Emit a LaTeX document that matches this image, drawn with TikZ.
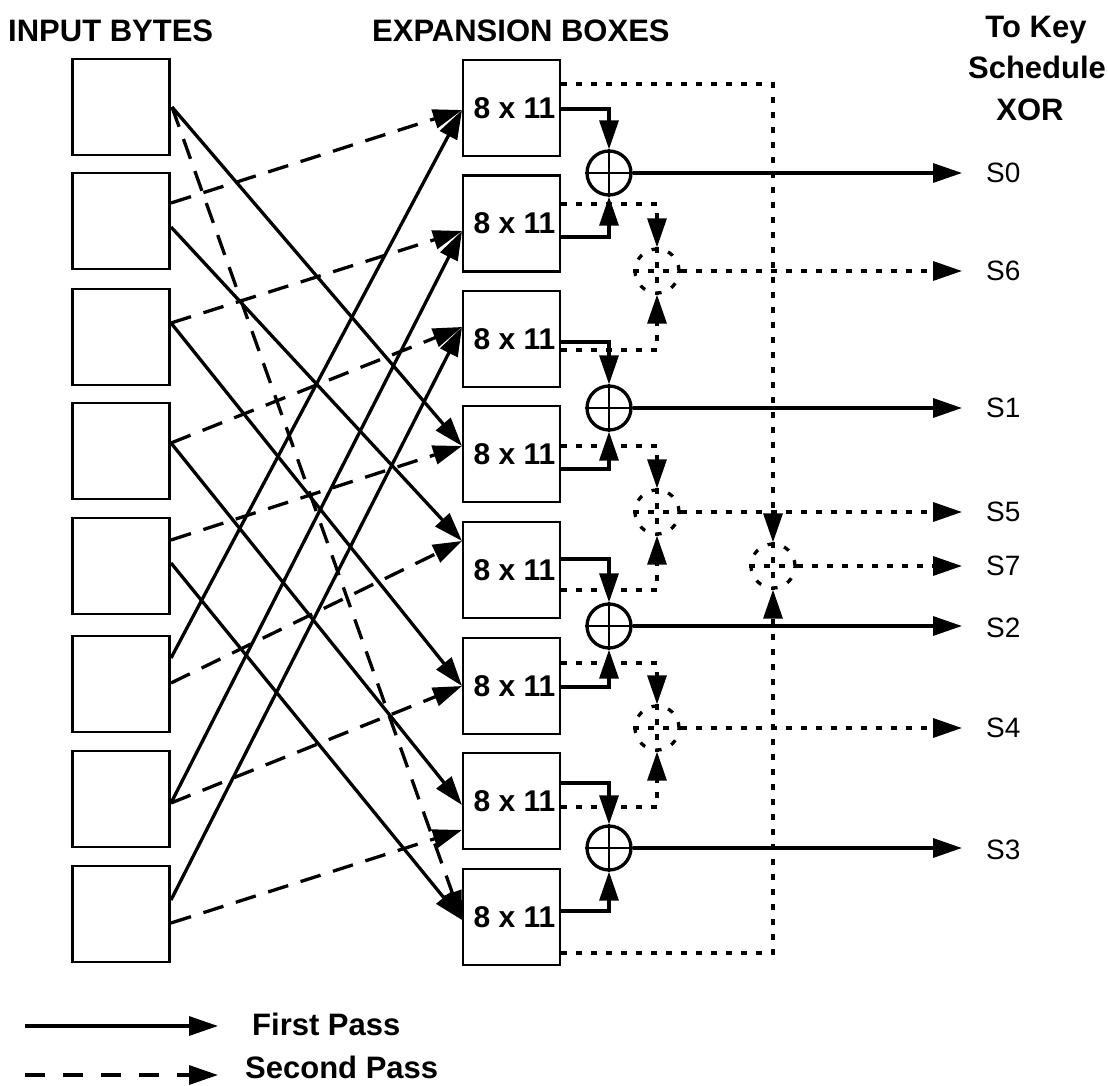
\documentclass[tikz,border=0pt]{standalone}
\usepackage{fontspec}
\setmainfont{Liberation Sans}
\usetikzlibrary{arrows.meta}
\begin{document}
\begin{tikzpicture}[x=1pt,y=-1pt,
  box/.style={draw, line width=2.4pt, minimum width=97pt, minimum height=96pt, inner sep=0pt,
    font=\bfseries\fontsize{30}{30}\selectfont},
  tipa/.style={-{Triangle[length=29pt,width=19pt]}},
  first/.style={line width=3.3pt, tipa},
  second/.style={line width=3.3pt, dash pattern=on 21pt off 13pt, tipa},
  dotl/.style={line width=3.3pt, dash pattern=on 6pt off 9pt},
  dotarr/.style={dotl, tipa},
  xorc/.style={circle, draw, line width=3.3pt, minimum size=44pt, inner sep=0pt},
  dxor/.style={circle, draw, line width=3.3pt, dash pattern=on 6pt off 11pt, minimum size=44pt, inner sep=0pt},
  lab/.style={anchor=west, inner sep=0pt, font=\fontsize{28}{28}\selectfont},
  head/.style={inner sep=0pt, font=\bfseries\fontsize{31}{31}\selectfont},
  outs/.style={shorten >=24pt}
]
\useasboundingbox (0,0) rectangle (1108,1086);

% headers
\node[head, anchor=base west] (h1) at (8,42) {INPUT BYTES};
\node[head, anchor=base west] (h2) at (372,42) {EXPANSION BOXES};
\node[head, anchor=base] (h3) at (1036,38) {To Key};
\node[head, anchor=base] (h4) at (1037,79) {Schedule};
\node[head, anchor=base] (h5) at (1030,121) {XOR};

% input boxes
\node[box] (i1) at (121,107) {};
\node[box] (i2) at (121,221) {};
\node[box] (i3) at (121,337) {};
\node[box] (i4) at (121,451) {};
\node[box] (i5) at (121,566) {};
\node[box] (i6) at (121,684) {};
\node[box] (i7) at (121,799) {};
\node[box] (i8) at (121,914) {};

% expansion boxes
\node[box] (b1) at (511.5,108) {\hspace*{6pt}8 x 11};
\node[box] (b2) at (511.5,223.5) {\hspace*{6pt}8 x 11};
\node[box] (b3) at (511.5,339) {\hspace*{6pt}8 x 11};
\node[box] (b4) at (511.5,454) {\hspace*{6pt}8 x 11};
\node[box] (b5) at (511.5,570) {\hspace*{6pt}8 x 11};
\node[box] (b6) at (511.5,686) {\hspace*{6pt}8 x 11};
\node[box] (b7) at (511.5,801) {\hspace*{6pt}8 x 11};
\node[box] (b8) at (511.5,917) {\hspace*{6pt}8 x 11};

% start points on input boxes
\coordinate (p1) at (172,107);
\coordinate (p2d) at (171,203); \coordinate (p2s) at (171,227);
\coordinate (p3) at (171,323);
\coordinate (p4) at (171,443);
\coordinate (p5d) at (171,540); \coordinate (p5s) at (171,563);
\coordinate (p6s) at (171,658); \coordinate (p6d) at (171,683);
\coordinate (p7) at (171,803);
\coordinate (p8s) at (171,900); \coordinate (p8d) at (171,923);
% tips on expansion boxes
\coordinate (q1) at (462,110);
\coordinate (q2) at (462,231);
\coordinate (q3) at (462,327);
\coordinate (q4) at (462,446);
\coordinate (q5) at (462,541);
\coordinate (q6) at (462,686);
\coordinate (q7s) at (462,805); \coordinate (q7d) at (462,830);
\coordinate (q8) at (462,920);

% first pass
\draw[first] (p1) -- (q4);
\draw[first] (p2s) -- (q5);
\draw[first] (p3) -- (q6);
\draw[first] (p4) -- (q7s);
\draw[first] (p5s) -- (q8);
\draw[first] (p6s) -- (q1);
\draw[first] (p7) -- (q2);
\draw[first] (p8s) -- (q3);
% second pass
\draw[second] (p2d) -- (q1);
\draw[second] (p3) -- (q2);
\draw[second] (p4) -- (q3);
\draw[second] (p5d) -- (q4);
\draw[second] (p6d) -- (q5);
\draw[second] (p7) -- (q6);
\draw[second] (p8d) -- (q7d);
\draw[second] (p1) -- (q8);

% xor circles
\node[xorc] (x0) at (609,173) {};
\node[xorc] (x1) at (609,408) {};
\node[xorc] (x2) at (609,626) {};
\node[xorc] (x3) at (609,848) {};
\foreach \n in {x0,x1,x2,x3}{
  \draw[line width=2.4pt] (\n.north) -- (\n.south) (\n.west) -- (\n.east);
}
% dotted xor circles
\node[dxor] (d6) at (657,271) {};
\node[dxor] (d5) at (657,512) {};
\node[dxor] (d4) at (657,728) {};
\node[dxor] (d7) at (773,566) {};
\foreach \n in {d4,d5,d6,d7}{
  \draw[dotl] (\n.north) -- (\n.south) (\n.west) -- (\n.east);
}

% box outputs
\coordinate (r1s) at (561,109); \coordinate (r1d) at (561,84);
\coordinate (r2s) at (561,237); \coordinate (r2d) at (561,204);
\coordinate (r3s) at (561,342); \coordinate (r3d) at (561,350);
\coordinate (r4s) at (561,469); \coordinate (r4d) at (561,446);
\coordinate (r5s) at (561,559); \coordinate (r5d) at (561,590);
\coordinate (r6s) at (561,687); \coordinate (r6d) at (561,663);
\coordinate (r7s) at (561,783); \coordinate (r7d) at (561,807);
\coordinate (r8s) at (561,911); \coordinate (r8d) at (561,953);

\draw[first] (r1s) -| (x0.north);
\draw[first] (r2s) -| (x0.south);
\draw[first] (r3s) -| (x1.north);
\draw[first] (r4s) -| (x1.south);
\draw[first] (r5s) -| (x2.north);
\draw[first] (r6s) -| (x2.south);
\draw[first] (r7s) -| (x3.north);
\draw[first] (r8s) -| (x3.south);

\draw[dotarr] (r2d) -| (d6.north);
\draw[dotarr] (r3d) -| (d6.south);
\draw[dotarr] (r4d) -| (d5.north);
\draw[dotarr] (r5d) -| (d5.south);
\draw[dotarr] (r6d) -| (d4.north);
\draw[dotarr] (r7d) -| (d4.south);
\draw[dotarr] (r1d) -| (d7.north);
\draw[dotarr] (r8d) -| (d7.south);

% output labels
\node[lab] (s0) at (986,173) {S0};
\node[lab] (s6) at (986,271) {S6};
\node[lab] (s1) at (986,408) {S1};
\node[lab] (s5) at (986,512) {S5};
\node[lab] (s7) at (986,566) {S7};
\node[lab] (s2) at (986,628) {S2};
\node[lab] (s4) at (986,728) {S4};
\node[lab] (s3) at (986,850) {S3};

\draw[first, outs] (x0.east) -- (x0.east -| s0.west);
\draw[first, outs] (x1.east) -- (x1.east -| s1.west);
\draw[first, outs] (x2.east) -- (x2.east -| s2.west);
\draw[first, outs] (x3.east) -- (x3.east -| s3.west);
\draw[dotarr, outs] (d6.east) -- (d6.east -| s6.west);
\draw[dotarr, outs] (d5.east) -- (d5.east -| s5.west);
\draw[dotarr, outs] (d4.east) -- (d4.east -| s4.west);
\draw[dotarr, outs] (d7.east) -- (d7.east -| s7.west);

% legend
\coordinate (la) at (25,1026); \coordinate (lb) at (218,1026);
\coordinate (lc) at (25,1075); \coordinate (ld) at (218,1075);
\draw[first] (la) -- (lb);
\draw[line width=3.3pt, dash pattern=on 20pt off 18pt, tipa] (lc) -- (ld);
\node[head, anchor=base west] (lf) at (252,1035) {First Pass};
\node[head, anchor=base west] (ls) at (245,1078) {Second Pass};
\end{tikzpicture}
\end{document}
